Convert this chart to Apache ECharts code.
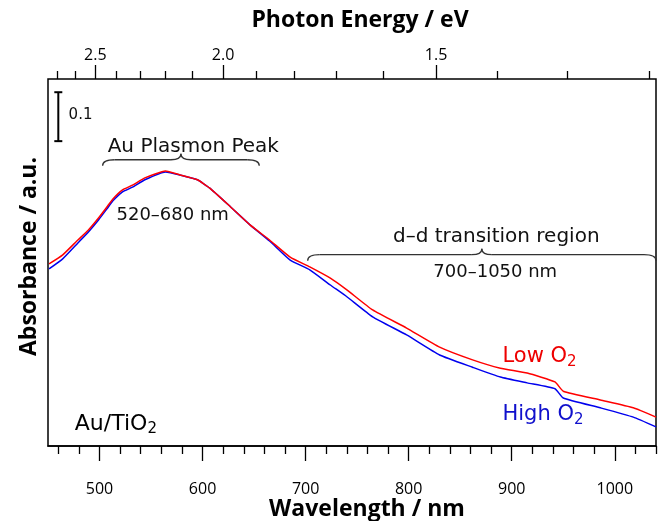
<!DOCTYPE html>
<html>
<head>
<meta charset="utf-8">
<script src="https://cdn.jsdelivr.net/npm/echarts@6/dist/echarts.min.js"></script>
<style>
  html, body { margin: 0; padding: 0; background: #fff; }
  #main { width: 660px; height: 521px; }
</style>
</head>
<body>
<div id="main"></div>
<script>
// wavelength (nm) and absorbance
var wavelength = [451, 464, 479, 489, 499, 507, 513, 522, 532, 544, 564, 578, 595, 607, 627, 646, 665, 685, 704, 724, 740, 765, 798, 830, 862, 889, 915, 942, 950, 986, 1018, 1040];
var lowO2 = [0.372, 0.390, 0.421, 0.441, 0.466, 0.488, 0.505, 0.523, 0.533, 0.548, 0.562, 0.554, 0.544, 0.527, 0.489, 0.452, 0.421, 0.386, 0.366, 0.343, 0.319, 0.278, 0.241, 0.202, 0.176, 0.159, 0.149, 0.131, 0.112, 0.094, 0.078, 0.059];
var highO2 = [0.362, 0.382, 0.415, 0.437, 0.462, 0.484, 0.501, 0.519, 0.529, 0.544, 0.560, 0.554, 0.544, 0.527, 0.489, 0.452, 0.419, 0.380, 0.360, 0.329, 0.305, 0.264, 0.227, 0.186, 0.161, 0.141, 0.129, 0.117, 0.098, 0.078, 0.059, 0.039];

// tick labels
var nmMajor = [500, 600, 700, 800, 900, 1000];
var nmMinor = [460, 480, 520, 540, 560, 580, 620, 640, 660, 680, 720, 740, 760, 780, 820, 840, 860, 880, 920, 940, 960, 980, 1020, 1040];
var eVMajor = [2.5, 2.0, 1.5];
var eVMinor = [2.7, 2.6, 2.4, 2.3, 2.2, 2.1, 1.9, 1.8, 1.7, 1.6, 1.4, 1.3, 1.2];

var HC = 1239.84;
function toNm(e) { return HC / e; }

function pairs(ys) {
  var out = [];
  for (var i = 0; i < wavelength.length; i++) out.push([wavelength[i], ys[i]]);
  return out;
}

var myChart = echarts.init(document.getElementById('main'));
var FONT = 'DejaVu Sans';
var TITLE_FONT = 'Open Sans';
var tickStyle = { color: '#000', width: 1.3 };
function titleStyle(pad) {
  return { fontFamily: TITLE_FONT, fontWeight: 'bold', fontSize: 23, color: '#000', padding: pad };
}

var option = {
  animation: false,
  backgroundColor: '#fff',
  grid: {
    left: 48, right: 4, top: 79, bottom: 75,
    containLabel: false, outerBoundsMode: 'none',
    show: true, borderColor: '#000', borderWidth: 1.5, backgroundColor: 'transparent'
  },
  xAxis: [{
    type: 'value', position: 'bottom', min: 450, max: 1040,
    name: 'Wavelength / nm', nameLocation: 'middle', nameGap: 52, nameMoveOverlap: false,
    nameTextStyle: titleStyle([0, 0, 0, 30]),
    axisLine: { show: true, onZero: false, lineStyle: { color: '#000', width: 1.5 } },
    axisTick: { show: true, inside: false, length: 15, customValues: nmMajor, lineStyle: tickStyle },
    axisLabel: {
      show: true, customValues: nmMajor, margin: 35, fontFamily: TITLE_FONT, fontSize: 16, color: '#000',
      formatter: function (v) { return String(v); }
    },
    splitLine: { show: false }
  }, {
    type: 'value', position: 'bottom', min: 450, max: 1040,
    axisLine: { show: false, onZero: false },
    axisTick: { show: true, inside: false, length: 8, customValues: nmMinor, lineStyle: tickStyle },
    axisLabel: { show: false },
    splitLine: { show: false }
  }, {
    type: 'value', position: 'top', min: 450, max: 1040,
    name: 'Photon Energy / eV', nameLocation: 'middle', nameGap: 47,
    nameTextStyle: titleStyle([0, 0, 0, 16]),
    axisLine: { show: false, onZero: false },
    axisTick: { show: true, inside: false, length: 14, customValues: eVMajor.map(toNm), lineStyle: tickStyle },
    axisLabel: {
      show: true, customValues: eVMajor.map(toNm), margin: 16,
      fontFamily: TITLE_FONT, fontSize: 16, color: '#000',
      formatter: function (v) { return (HC / v).toFixed(1); }
    },
    splitLine: { show: false }
  }, {
    type: 'value', position: 'top', min: 450, max: 1040,
    axisLine: { show: false, onZero: false },
    axisTick: { show: true, inside: false, length: 8, customValues: eVMinor.map(toNm), lineStyle: tickStyle },
    axisLabel: { show: false },
    splitLine: { show: false }
  }],
  yAxis: {
    type: 'value', min: 0, max: 0.75,
    name: 'Absorbance / a.u.', nameLocation: 'middle', nameGap: 7,
    nameTextStyle: titleStyle([0, 0, 0, 12]),
    axisLine: { show: false },
    axisTick: { show: false },
    axisLabel: { show: false },
    splitLine: { show: false }
  },
  series: [{
    name: 'High O2', type: 'line', xAxisIndex: 0, data: pairs(highO2),
    smooth: 0.15, showSymbol: false, lineStyle: { color: '#0000ee', width: 1.5 }
  }, {
    name: 'Low O2', type: 'line', xAxisIndex: 0, data: pairs(lowO2),
    smooth: 0.15, showSymbol: false, lineStyle: { color: '#ff0000', width: 1.5 }
  }]
};
myChart.setOption(option);

// annotation helpers (positions in data space)
function px(x, y) { return myChart.convertToPixel({ xAxisIndex: 0, yAxisIndex: 0 }, [x, y]); }

var braceStyle = { fill: null, stroke: '#333', lineWidth: 1.3 };
function curve(x1, y1, cx, cy, x2, y2) {
  return { type: 'bezierCurve', shape: { x1: x1, y1: y1, cpx1: cx, cpy1: cy, x2: x2, y2: y2 }, style: braceStyle };
}
function seg(x1, y1, x2, y2) {
  return { type: 'line', shape: { x1: x1, y1: y1, x2: x2, y2: y2 }, style: braceStyle };
}
function brace(x0, x1, y, h) {
  var a = px(x0, y), b = px(x1, y);
  var xm = (a[0] + b[0]) / 2, yy = a[1];
  return [
    curve(a[0], yy + h, a[0], yy, a[0] + 12, yy),
    seg(a[0] + 12, yy, xm - 10, yy),
    curve(xm - 10, yy, xm, yy, xm, yy - h),
    curve(xm, yy - h, xm, yy, xm + 10, yy),
    seg(xm + 10, yy, b[0] - 12, yy),
    curve(b[0] - 12, yy, b[0], yy, b[0], yy + h)
  ];
}

function label(x, y, text, opts) {
  var p = px(x, y);
  return {
    type: 'text', x: p[0], y: p[1],
    style: Object.assign({
      text: text, fill: '#111', font: '20px "' + FONT + '"',
      align: 'center', verticalAlign: 'middle'
    }, opts || {})
  };
}

var sb0 = px(460, 0.623), sb1 = px(460, 0.723);
var barStyle = { stroke: '#000', lineWidth: 2 };
var graphics = [
  { type: 'line', shape: { x1: sb0[0], y1: sb0[1], x2: sb1[0], y2: sb1[1] }, style: barStyle },
  { type: 'line', shape: { x1: sb0[0] - 4, y1: sb0[1], x2: sb0[0] + 4, y2: sb0[1] }, style: barStyle },
  { type: 'line', shape: { x1: sb1[0] - 4, y1: sb1[1], x2: sb1[0] + 4, y2: sb1[1] }, style: barStyle },
  label(470, 0.676, '0.1', { align: 'left', font: '15px "' + FONT + '"' }),
  label(591, 0.612, 'Au Plasmon Peak'),
  label(571, 0.471, '520\u2013680 nm', { font: '18px "' + FONT + '"' }),
  label(885, 0.428, 'd\u2013d transition region'),
  label(884, 0.354, '700\u20131050 nm', { font: '18px "' + FONT + '"' }),
  label(891, 0.182, 'Low O{s|2}', {
    align: 'left', fill: '#ee0000', font: '21px "' + FONT + '"',
    rich: { s: { fontSize: 15, fill: '#ee0000', fontFamily: FONT, padding: [10, 0, 0, 0] } }
  }),
  label(891, 0.064, 'High O{s|2}', {
    align: 'left', fill: '#1010cc', font: '21px "' + FONT + '"',
    rich: { s: { fontSize: 15, fill: '#1010cc', fontFamily: FONT, padding: [10, 0, 0, 0] } }
  }),
  label(476, 0.045, 'Au/TiO{s|2}', {
    align: 'left', fill: '#000', font: '22px "' + FONT + '"',
    rich: { s: { fontSize: 15, fill: '#000', fontFamily: FONT, padding: [10, 0, 0, 0] } }
  })
].concat(brace(503, 655, 0.585, 6), brace(702, 1040, 0.391, 6));
myChart.setOption({ graphic: graphics });
</script>
</body>
</html>
